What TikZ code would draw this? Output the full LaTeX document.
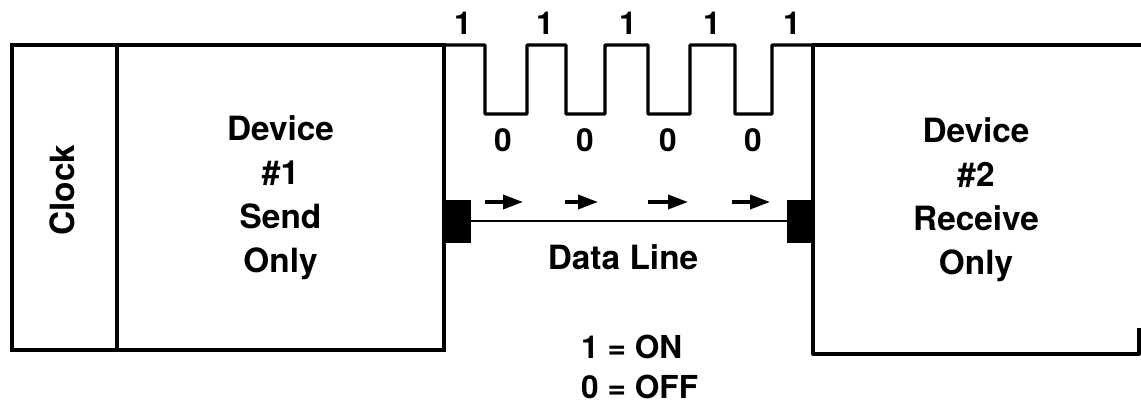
\documentclass[tikz,border=0pt]{standalone}
\usepackage{fontspec}
\setmainfont{TeX Gyre Heros}
\usetikzlibrary{arrows.meta, calc}
\tikzset{devbox/.style={draw, line width=1.8pt, align=center, font=\fontsize{19}{25}\selectfont\bfseries, inner sep=0pt, outer sep=0pt},port/.style={draw, fill=black, minimum width=0.54cm, minimum height=0.84cm, inner sep=0pt, outer sep=0pt},wave/.style={line width=1.8pt, line join=round},arrowflow/.style={-{Triangle[length=4mm, width=2.8mm]}, line width=2pt},bit_t/.style={font=\fontsize{18}{22}\selectfont\bfseries}}

\begin{document}
\begin{tikzpicture}[x=0.02cm, y=-0.02cm,
   txt/.style={align=center, font=\fontsize{19}{25}\selectfont\bfseries},
   dline/.style={line width=1.6pt}]
  \useasboundingbox (0,0) rectangle (1141,408);

  % Clock and sender
  \node[devbox, minimum width=2.1cm, minimum height=6.1cm] (clock) at (64.5,197.5) {};
  \node[txt, rotate=90] (clocklbl) at (62,190) {Clock};
  \node[devbox, minimum width=6.54cm, minimum height=6.1cm] (dev1) at (280.5,197.5)
    {Device\\ \#1\\ Send\\ Only};

  % Receiver (open on the right)
  \node[devbox, draw=none, minimum width=6.52cm, minimum height=6.18cm] (dev2) at (976,199.5)
    {Device\\ \#2\\ Receive\\ Only};
  \draw[wave] ([yshift=0.52cm]dev2.south east) -- (dev2.south east) -- (dev2.south west)
    -- (dev2.north west) -- ([xshift=0.04cm]dev2.north east);

  % pulse train
  \draw[wave] (dev1.north east)
    foreach \a/\b in {485/527, 566/605, 648/690, 735/772}
      { -- (\a,45) -- (\a,114) -- (\b,114) -- (\b,45) }
    -- (dev2.north west);
  \foreach \x in {463,545,628,712,792}
    \node[bit_t] (one\x) at (\x,23) {1};
  \foreach \x in {503,585,668,753}
    \node[bit_t] (zero\x) at (\x,140) {0};

  % data line
  \node[port] (p1) at (457,221) {};
  \node[port] (p2) at (801,221) {};
  \draw[dline] (p1) -- (p2);
  \foreach \a/\b in {485/523, 565/598, 648/688, 732/770}
    \draw[arrowflow] (\a,202) -- (\b,202);
  \node[txt] (dlbl) at (623,257) {Data Line};

  % key
  \node[bit_t, align=left, anchor=west, font=\fontsize{18}{23}\selectfont\bfseries] (key) at (575,367)
    {1 = ON\\ 0 = OFF};
\end{tikzpicture}
\end{document}
